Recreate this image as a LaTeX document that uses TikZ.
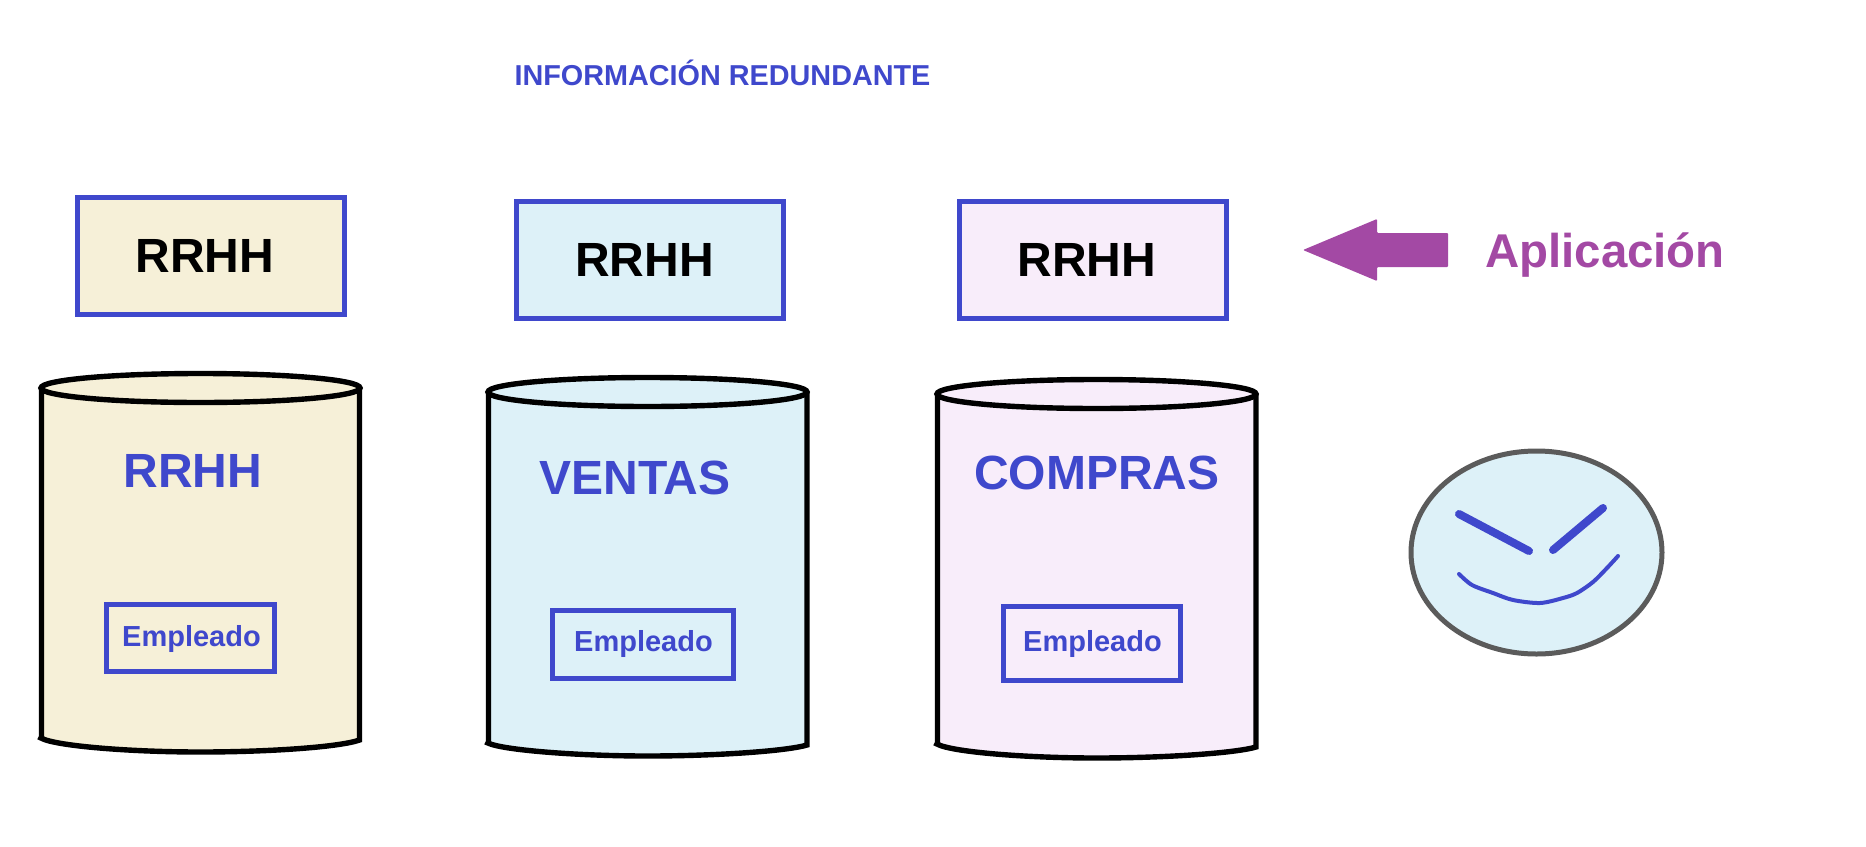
\documentclass[tikz,border=0pt]{standalone}
\usepackage{fontspec}
\setmainfont{Liberation Sans}
\definecolor{azul}{HTML}{3F48CC}
\definecolor{crema}{HTML}{F6F0D8}
\definecolor{celeste}{HTML}{DDF1F8}
\definecolor{rosa}{HTML}{F8EDFA}
\definecolor{morado}{HTML}{A349A4}
\definecolor{gris}{HTML}{5B5B5B}
\begin{document}
\begin{tikzpicture}[x=1pt,y=-1pt]
	\tikzstyle{appbox}=[rectangle,draw=azul,line width=5.4pt,minimum width=267pt,minimum height=117pt,inner sep=0pt]
	\tikzstyle{empbox}=[rectangle,draw=azul,line width=5.4pt,inner sep=0pt]
	\tikzstyle{big}=[anchor=base,inner sep=0pt,font=\bfseries\fontsize{48}{50}\selectfont]
	\tikzstyle{small}=[anchor=base,inner sep=0pt,font=\bfseries\fontsize{29}{32}\selectfont,text=azul]
	\tikzstyle{cyl}=[draw=black,line width=5.4pt,line join=miter]
	\useasboundingbox (0,0) rectangle (1866,846);
	\node[anchor=base,inner sep=0pt,font=\bfseries\fontsize{28.8}{30}\selectfont,text=azul](title) at (722.5,85) {INFORMACIÓN REDUNDANTE};
	% aplicaciones
	\node[appbox,fill=crema](app1) at (211,256) {};
	\node[appbox,fill=celeste](app2) at (650,260) {};
	\node[appbox,fill=rosa](app3) at (1093,260) {};
	\node[big](apptext1) at (205,272) {RRHH};
	\node[big](apptext2) at (644.5,276) {RRHH};
	\node[big](apptext3) at (1087,276) {RRHH};
	% cilindros
	\draw[cyl,fill=crema] (41.5,387.5) -- (41.5,737) -- (41,738) .. controls (55,746) and (130,752) .. (200,752) .. controls (270,752) and (340,747) .. (359.5,740) -- (359.5,387.5);
	\draw[cyl,fill=crema] (200.5,388) ellipse (159.5 and 14.5);
	\draw[cyl,fill=celeste] (488.5,391.5) -- (488.5,742) -- (488,743) .. controls (502,750) and (577,756) .. (647,756) .. controls (717,756) and (787,751) .. (807,745) -- (807,391.5);
	\draw[cyl,fill=celeste] (647.5,392) ellipse (159.5 and 14.5);
	\draw[cyl,fill=rosa] (937.5,393.5) -- (937.5,743) -- (937,744) .. controls (951,752) and (1026,758) .. (1096,758) .. controls (1166,758) and (1236,753) .. (1256,747) -- (1256,393.5);
	\draw[cyl,fill=rosa] (1096.5,394) ellipse (159.5 and 14.5);
	\node[big,text=azul](db1) at (193,487) {RRHH};
	\node[big,text=azul](db2) at (635,494) {VENTAS};
	\node[big,text=azul](db3) at (1097,489) {COMPRAS};
	\node[empbox,minimum width=168pt,minimum height=67pt](emp1) at (190.5,638) {};
	\node[empbox,minimum width=181pt,minimum height=68pt](emp2) at (643,644.5) {};
	\node[empbox,minimum width=177pt,minimum height=74pt](emp3) at (1092,643.5) {};
	\node[small](emptext1) at (191.5,646) {Empleado};
	\node[small](emptext2) at (643.5,651) {Empleado};
	\node[small](emptext3) at (1092.5,651) {Empleado};
	% flecha
	\fill[morado,rounded corners=1pt] (1303,250) -- (1377,219) -- (1377,233) -- (1448,233) -- (1448,267) -- (1377,267) -- (1377,281) -- cycle;
	\node[big,text=morado,font=\bfseries\fontsize{47.4}{50}\selectfont](aplic) at (1605,267) {Aplicación};
	% cara
	\draw[draw=gris,fill=celeste,line width=5pt] (1536.5,552.5) ellipse (125.5 and 101.5);
	\draw[azul,line width=8pt,line cap=round] (1459,514) -- (1529,551);
	\draw[azul,line width=8pt,line cap=round] (1553,550) -- (1603,508);
	\draw[azul,line width=4pt,line cap=round] plot[smooth] coordinates {(1459,574) (1472,585) (1493,593) (1513,600) (1540,603) (1563,598) (1577,593) (1593,582) (1607,568) (1618,556)};
\end{tikzpicture}
\end{document}
